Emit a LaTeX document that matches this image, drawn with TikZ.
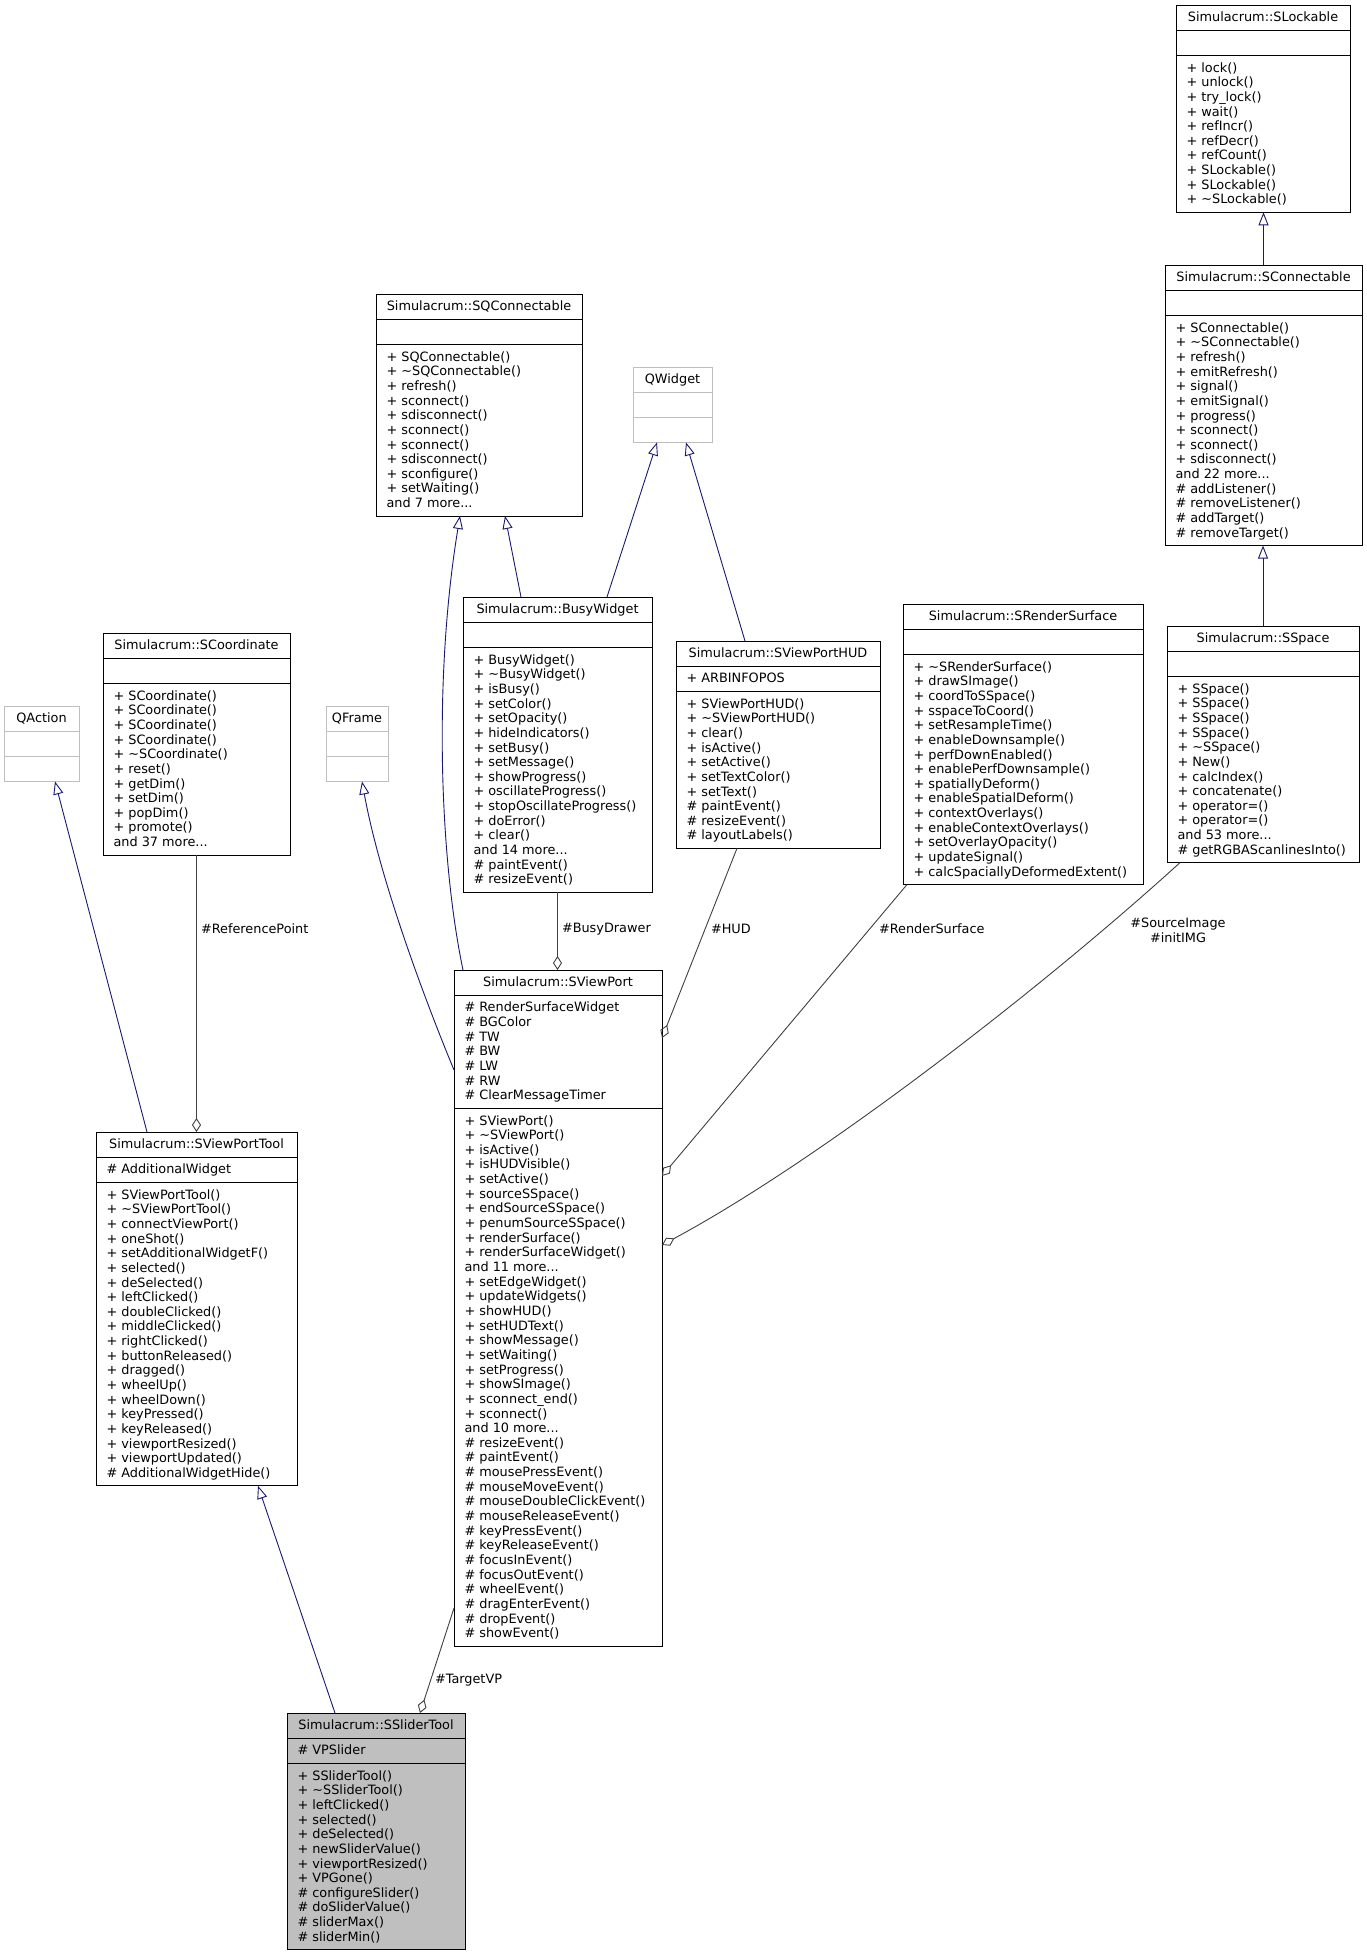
\documentclass[tikz,border=0pt]{standalone}
\usepackage{fontspec}
\setmainfont{DejaVu Sans}
\usetikzlibrary{arrows.meta}
\definecolor{inh}{HTML}{191970}
\definecolor{usecol}{HTML}{404040}
\definecolor{extcol}{HTML}{BFBFBF}
\definecolor{curcol}{HTML}{BFBFBF}
\newcommand\mydots{...}
\newcommand\mlines[3]{%
  \foreach \t [count=\i] in {#3} {%
    \pgfmathsetmacro\dy{#2+14.65*(\i-1)}%
    \node[txt,anchor=base west] (#1-\i) at ([xshift=10.5pt,yshift=-\dy pt]#1.north west) {\t};
  }}
\newcommand\sepl[3][black]{\draw[sepline,draw=#1] ([yshift=-#3pt]#2.north west) -- ([yshift=-#3pt]#2.north east);}
\newcommand\ttl[2]{\node[txt,anchor=base] (#1-t) at ([yshift=-16.8pt]#1.north) {#2};}
\tikzset{
 txt/.style={font=\fontsize{12.85}{14.65}\selectfont, inner sep=0pt, outer sep=0pt, text=black},
 box/.style={draw=black, line width=0.9pt, fill=white, inner sep=0pt, outer sep=0pt, anchor=north west},
 extbox/.style={box, draw=extcol},
 curbox/.style={box, fill=curcol},
 sepline/.style={line width=0.9pt},
 inhedge/.style={draw=inh, line width=0.9pt, -{Triangle[open,length=13pt,width=10pt]}},
 useedge/.style={draw=usecol, line width=0.9pt, {Diamond[open,length=14pt,width=9pt]}-},
}
\begin{document}
\begin{tikzpicture}[x=1pt,y=-1pt]
\path[use as bounding box, fill=white] (0,0) rectangle (1367,1956);

% SLockable
\node[box,minimum width=174pt,minimum height=207.3pt] (SLockable) at (1176,5) {};
\sepl{SLockable}{25.15}\sepl{SLockable}{50.3}
\ttl{SLockable}{Simulacrum::SLockable}
\mlines{SLockable}{67.1}{+ lock(),+ unlock(),+ try\_lock(),+ wait(),+ refIncr(),+ refDecr(),+ refCount(),+ SLockable(),+ SLockable(),+ \textasciitilde SLockable()}

% SConnectable
\node[box,minimum width=197pt,minimum height=280.55pt] (SConnectable) at (1165,265) {};
\sepl{SConnectable}{25.15}\sepl{SConnectable}{50.3}
\ttl{SConnectable}{Simulacrum::SConnectable}
\mlines{SConnectable}{67.1}{+ SConnectable(),+ \textasciitilde SConnectable(),+ refresh(),+ emitRefresh(),+ signal(),+ emitSignal(),+ progress(),+ sconnect(),+ sconnect(),+ sdisconnect(),and 22 more\mydots,\# addListener(),\# removeListener(),\# addTarget(),\# removeTarget()}

% SQConnectable
\node[box,minimum width=206pt,minimum height=221.95pt] (SQConnectable) at (376,294) {};
\sepl{SQConnectable}{25.15}\sepl{SQConnectable}{50.3}
\ttl{SQConnectable}{Simulacrum::SQConnectable}
\mlines{SQConnectable}{67.1}{+ SQConnectable(),+ \textasciitilde SQConnectable(),+ refresh(),+ sconnect(),+ sdisconnect(),+ sconnect(),+ sconnect(),+ sdisconnect(),+ sconfigure(),+ setWaiting(),and 7 more\mydots}

% QWidget
\node[extbox,minimum width=79pt,minimum height=75.45pt] (QWidget) at (633,367) {};
\sepl[extcol]{QWidget}{25.15}\sepl[extcol]{QWidget}{50.3}
\ttl{QWidget}{QWidget}

% BusyWidget
\node[box,minimum width=189pt,minimum height=295.2pt] (BusyWidget) at (463,597) {};
\sepl{BusyWidget}{25.15}\sepl{BusyWidget}{50.3}
\ttl{BusyWidget}{Simulacrum::BusyWidget}
\mlines{BusyWidget}{67.1}{+ BusyWidget(),+ \textasciitilde BusyWidget(),+ isBusy(),+ setColor(),+ setOpacity(),+ hideIndicators(),+ setBusy(),+ setMessage(),+ showProgress(),+ oscillateProgress(),+ stopOscillateProgress(),+ doError(),+ clear(),and 14 more\mydots,\# paintEvent(),\# resizeEvent()}

% SViewPortHUD
\node[box,minimum width=204pt,minimum height=207.3pt] (SViewPortHUD) at (676,641) {};
\sepl{SViewPortHUD}{25.15}\sepl{SViewPortHUD}{50.3}
\ttl{SViewPortHUD}{Simulacrum::SViewPortHUD}
\node[txt,anchor=base west] (SViewPortHUD-attr) at ([xshift=10.5pt,yshift=-41.95pt]SViewPortHUD.north west) {+ ARBINFOPOS};
\mlines{SViewPortHUD}{67.1}{+ SViewPortHUD(),+ \textasciitilde SViewPortHUD(),+ clear(),+ isActive(),+ setActive(),+ setTextColor(),+ setText(),\# paintEvent(),\# resizeEvent(),\# layoutLabels()}

% SRenderSurface
\node[box,minimum width=240pt,minimum height=280.55pt] (SRenderSurface) at (903,604) {};
\sepl{SRenderSurface}{25.15}\sepl{SRenderSurface}{50.3}
\ttl{SRenderSurface}{Simulacrum::SRenderSurface}
\mlines{SRenderSurface}{67.1}{+ \textasciitilde SRenderSurface(),+ drawSImage(),+ coordToSSpace(),+ sspaceToCoord(),+ setResampleTime(),+ enableDownsample(),+ perfDownEnabled(),+ enablePerfDownsample(),+ spatiallyDeform(),+ enableSpatialDeform(),+ contextOverlays(),+ enableContextOverlays(),+ setOverlayOpacity(),+ updateSignal(),+ calcSpaciallyDeformedExtent()}

% SSpace
\node[box,minimum width=192pt,minimum height=236.6pt] (SSpace) at (1167,626) {};
\sepl{SSpace}{25.15}\sepl{SSpace}{50.3}
\ttl{SSpace}{Simulacrum::SSpace}
\mlines{SSpace}{67.1}{+ SSpace(),+ SSpace(),+ SSpace(),+ SSpace(),+ \textasciitilde SSpace(),+ New(),+ calcIndex(),+ concatenate(),+ operator=(),+ operator=(),and 53 more\mydots,\# getRGBAScanlinesInto()}

% QAction
\node[extbox,minimum width=75pt,minimum height=75.45pt] (QAction) at (4,706) {};
\sepl[extcol]{QAction}{25.15}\sepl[extcol]{QAction}{50.3}
\ttl{QAction}{QAction}

% QFrame
\node[extbox,minimum width=62pt,minimum height=75.45pt] (QFrame) at (326,706) {};
\sepl[extcol]{QFrame}{25.15}\sepl[extcol]{QFrame}{50.3}
\ttl{QFrame}{QFrame}

% SCoordinate
\node[box,minimum width=187pt,minimum height=221.95pt] (SCoordinate) at (103,633) {};
\sepl{SCoordinate}{25.15}\sepl{SCoordinate}{50.3}
\ttl{SCoordinate}{Simulacrum::SCoordinate}
\mlines{SCoordinate}{67.1}{+ SCoordinate(),+ SCoordinate(),+ SCoordinate(),+ SCoordinate(),+ \textasciitilde SCoordinate(),+ reset(),+ getDim(),+ setDim(),+ popDim(),+ promote(),and 37 more\mydots}

% SViewPort
\node[box,minimum width=208pt,minimum height=676.1pt] (SViewPort) at (454,970) {};
\sepl{SViewPort}{25.15}\sepl{SViewPort}{138.2}
\ttl{SViewPort}{Simulacrum::SViewPort}
\foreach \t [count=\i] in {\# RenderSurfaceWidget,\# BGColor,\# TW,\# BW,\# LW,\# RW,\# ClearMessageTimer}{%
  \pgfmathsetmacro\dy{41.95+14.65*(\i-1)}%
  \node[txt,anchor=base west] (SViewPort-attr\i) at ([xshift=10.5pt,yshift=-\dy pt]SViewPort.north west) {\t};}
\mlines{SViewPort}{155.0}{+ SViewPort(),+ \textasciitilde SViewPort(),+ isActive(),+ isHUDVisible(),+ setActive(),+ sourceSSpace(),+ endSourceSSpace(),+ penumSourceSSpace(),+ renderSurface(),+ renderSurfaceWidget(),and 11 more\mydots,+ setEdgeWidget(),+ updateWidgets(),+ showHUD(),+ setHUDText(),+ showMessage(),+ setWaiting(),+ setProgress(),+ showSImage(),+ sconnect\_end(),+ sconnect(),and 10 more\mydots,\# resizeEvent(),\# paintEvent(),\# mousePressEvent(),\# mouseMoveEvent(),\# mouseDoubleClickEvent(),\# mouseReleaseEvent(),\# keyPressEvent(),\# keyReleaseEvent(),\# focusInEvent(),\# focusOutEvent(),\# wheelEvent(),\# dragEnterEvent(),\# dropEvent(),\# showEvent()}

% SViewPortTool
\node[box,minimum width=201pt,minimum height=353.8pt] (SViewPortTool) at (96,1132) {};
\sepl{SViewPortTool}{25.15}\sepl{SViewPortTool}{50.3}
\ttl{SViewPortTool}{Simulacrum::SViewPortTool}
\node[txt,anchor=base west] (SViewPortTool-attr) at ([xshift=10.5pt,yshift=-41.95pt]SViewPortTool.north west) {\# AdditionalWidget};
\mlines{SViewPortTool}{67.1}{+ SViewPortTool(),+ \textasciitilde SViewPortTool(),+ connectViewPort(),+ oneShot(),+ setAdditionalWidgetF(),+ selected(),+ deSelected(),+ leftClicked(),+ doubleClicked(),+ middleClicked(),+ rightClicked(),+ buttonReleased(),+ dragged(),+ wheelUp(),+ wheelDown(),+ keyPressed(),+ keyReleased(),+ viewportResized(),+ viewportUpdated(),\# AdditionalWidgetHide()}

% SSliderTool
\node[curbox,minimum width=178pt,minimum height=236.6pt] (SSliderTool) at (287,1713) {};
\sepl{SSliderTool}{25.15}\sepl{SSliderTool}{50.3}
\ttl{SSliderTool}{Simulacrum::SSliderTool}
\node[txt,anchor=base west] (SSliderTool-attr) at ([xshift=10.5pt,yshift=-41.95pt]SSliderTool.north west) {\# VPSlider};
\mlines{SSliderTool}{67.1}{+ SSliderTool(),+ \textasciitilde SSliderTool(),+ leftClicked(),+ selected(),+ deSelected(),+ newSliderValue(),+ viewportResized(),+ VPGone(),\# configureSlider(),\# doSliderValue(),\# sliderMax(),\# sliderMin()}

% inheritance edges
\draw[inhedge] (SConnectable.north) -- (SConnectable.north |- SLockable.south);
\draw[inhedge] (SSpace.north) -- (SSpace.north |- SConnectable.south);
\draw[inhedge] ([xshift=58pt]BusyWidget.north west) -- ([xshift=129pt]SQConnectable.south west);
\draw[inhedge] ([xshift=144pt]BusyWidget.north west) -- ([xshift=24pt]QWidget.south west);
\draw[inhedge] ([xshift=69pt]SViewPortHUD.north west) -- ([xshift=53pt]QWidget.south west);
\draw[inhedge] ([xshift=9pt]SViewPort.north west) .. controls (440,860) and (433,680) .. ([xshift=84pt]SQConnectable.south west);
\draw[inhedge] ([yshift=-100pt]SViewPort.north west) .. controls (425,1000) and (380,880) .. ([xshift=36pt]QFrame.south west);
\draw[inhedge] ([xshift=51pt]SViewPortTool.north west) -- ([xshift=51pt]QAction.south west);
\draw[inhedge] ([xshift=48pt]SSliderTool.north west) -- ([xshift=162pt]SViewPortTool.south west);

% usage edges
\draw[useedge] (SCoordinate.south |- SViewPortTool.north) -- (SCoordinate.south);
\draw[useedge] (BusyWidget.south |- SViewPort.north) -- (BusyWidget.south);
\draw[useedge] ([yshift=-68pt]SViewPort.north east) -- ([xshift=61pt]SViewPortHUD.south west);
\draw[useedge] ([yshift=-206pt]SViewPort.north east) -- ([xshift=4pt]SRenderSurface.south west);
\draw[useedge] ([yshift=-275pt]SViewPort.north east) .. controls (820,1160) and (1040,990) .. ([xshift=13pt]SSpace.south west);
\draw[useedge] ([xshift=133pt]SSliderTool.north west) -- ([yshift=-638pt]SViewPort.north west);

% edge labels
\node[txt,anchor=west] (lblRef) at (201,929) {\#ReferencePoint};
\node[txt,anchor=west] (lblBusy) at (562,929) {\#BusyDrawer};
\node[txt,anchor=west] (lblHUD) at (711,929) {\#HUD};
\node[txt,anchor=west] (lblRS) at (879,929) {\#RenderSurface};
\node[txt,align=center] (lblSI) at (1178,930) {\#SourceImage\\\#initIMG};
\node[txt,anchor=west] (lblVP) at (435,1680) {\#TargetVP};
\end{tikzpicture}
\end{document}
